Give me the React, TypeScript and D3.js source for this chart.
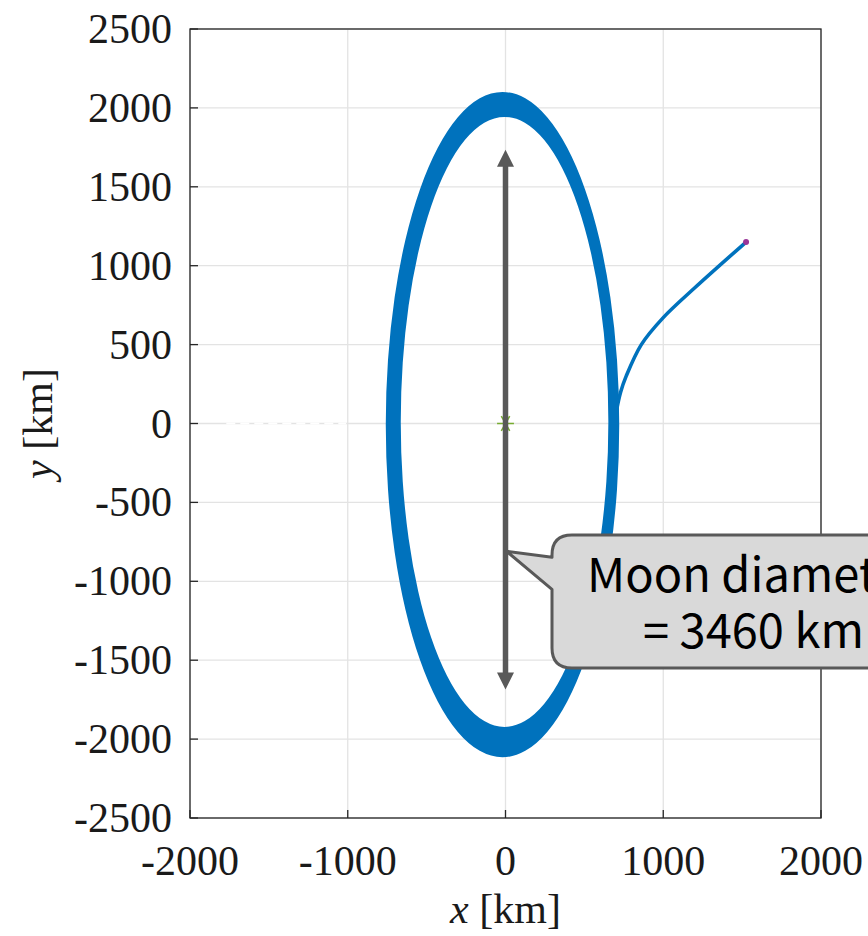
import React from "react";
import * as d3 from "d3";

// Axis ticks
const xTicks = [-2000, -1000, 0, 1000, 2000];
const yTicks = [2500, 2000, 1500, 1000, 500, 0, -500, -1000, -1500, -2000, -2500];

// Orbit band boundaries (km): [outer, inner]
const bandCx = [-19, -6];
const bandCy = [-7, 10];
const bandRx = [740, 658];
const bandRy = [2107, 1933];

// Transfer trajectory (km)
const trajX = [705, 730, 765, 861, 1000, 1200, 1525];
const trajY = [90, 200, 300, 500, 671, 860, 1150];

// Moon diameter arrow (km)
const arrowX = 0;
const arrowTop = 1735;
const arrowBottom = -1685;
const calloutTipY = -810;

const W = 868;
const H = 936;

export default function App() {
  const x = d3.scaleLinear().domain([-2000, 2000]).range([190, 821]);
  const y = d3.scaleLinear().domain([-2500, 2500]).range([818, 29]);

  const ellipsePath = (i: number) => {
    const cx = x(bandCx[i]);
    const cy = y(bandCy[i]);
    const rx = x(bandCx[i] + bandRx[i]) - cx;
    const ry = cy - y(bandCy[i] + bandRy[i]);
    return `M${cx - rx},${cy} A${rx},${ry} 0 1 0 ${cx + rx},${cy} A${rx},${ry} 0 1 0 ${cx - rx},${cy} Z`;
  };
  const bandPath = ellipsePath(0) + " " + ellipsePath(1);

  const traj = trajX.map((v, i) => [v, trajY[i]] as [number, number]);
  const trajLine = d3
    .line<[number, number]>()
    .x((d) => x(d[0]))
    .y((d) => y(d[1]))
    .curve(d3.curveCatmullRom.alpha(0.5))(traj) as string;

  const ax = x(arrowX);
  const aTop = y(arrowTop);
  const aBot = y(arrowBottom);
  const head = 17;
  const hw = 8.5;

  const tipX = ax + 1;
  const tipY = y(calloutTipY);
  const bL = 552;
  const bT = 535;
  const bB = 668;
  const bR = 920;
  const r = 20;
  const calloutPath = `M${bL},${tipY + 6} L${bL},${bT + r} Q${bL},${bT} ${bL + r},${bT} L${bR},${bT} L${bR},${bB} L${bL + r},${bB} Q${bL},${bB} ${bL},${bB - r} L${bL},${tipY + 38} L${tipX},${tipY} Z`;

  const star = d3.symbol(d3.symbolAsterisk, 200)() as string;

  const serif = "'Liberation Serif', 'Times New Roman', serif";
  const axisColor = "#262626";

  return (
    <>
      <style>{`body{margin:0}`}</style>
      <svg width={W} height={H} style={{ display: "block", background: "#fff" }}>
        {/* grid */}
        <g stroke="#e3e3e3" strokeWidth={1.3}>
          {xTicks.map((t) => (
            <line key={"gx" + t} x1={x(t)} x2={x(t)} y1={y(-2500)} y2={y(2500)} />
          ))}
          {yTicks.map((t) => (
            <line key={"gy" + t} x1={x(-2000)} x2={x(2000)} y1={y(t)} y2={y(t)} />
          ))}
        </g>
        {/* white dashed artifact on y=0 */}
        <line
          x1={x(-1770)}
          x2={x(-1010)}
          y1={y(0)}
          y2={y(0)}
          stroke="#fff"
          strokeWidth={1.6}
          strokeDasharray="9,5"
        />
        {/* orbit band */}
        <path d={bandPath} fill="#0072BD" fillRule="evenodd" />
        {/* transfer trajectory */}
        <path d={trajLine} fill="none" stroke="#0072BD" strokeWidth={3.6} strokeLinecap="round" />
        <circle cx={x(trajX[trajX.length - 1])} cy={y(trajY[trajY.length - 1])} r={3} fill="#9a3598" />
        {/* moon center */}
        <path
          d={star}
          transform={`translate(${x(0)},${y(0)}) rotate(90)`}
          fill="none"
          stroke="#77AC30"
          strokeWidth={1.5}
        />
        {/* axes box */}
        <rect
          x={x(-2000)}
          y={y(2500)}
          width={x(2000) - x(-2000)}
          height={y(-2500) - y(2500)}
          fill="none"
          stroke={axisColor}
          strokeWidth={1.3}
        />
        <g stroke={axisColor} strokeWidth={1.3}>
          {xTicks.map((t) => (
            <line key={"tx" + t} x1={x(t)} x2={x(t)} y1={y(-2500)} y2={y(-2500) - 8} />
          ))}
          {yTicks.map((t) => (
            <line key={"ty" + t} x1={x(-2000)} x2={x(-2000) + 8} y1={y(t)} y2={y(t)} />
          ))}
        </g>
        {/* tick labels */}
        <g fontFamily={serif} fontSize={42} fill="#1a1a1a">
          {xTicks.map((t) => (
            <text key={"lx" + t} x={x(t)} y={875} textAnchor="middle">
              {String(t)}
            </text>
          ))}
          {yTicks.map((t) => (
            <text key={"ly" + t} x={172} y={y(t) + 14} textAnchor="end">
              {String(t)}
            </text>
          ))}
        </g>
        {/* axis labels */}
        <text x={x(0)} y={923} textAnchor="middle" fontFamily={serif} fontSize={42} fill="#1a1a1a">
          <tspan fontStyle="italic">x</tspan>
          <tspan> [km]</tspan>
        </text>
        <text
          transform={`translate(52,${y(0)}) rotate(-90)`}
          textAnchor="middle"
          fontFamily={serif}
          fontSize={42}
          fill="#1a1a1a"
        >
          <tspan fontStyle="italic">y</tspan>
          <tspan> [km]</tspan>
        </text>
        {/* arrow */}
        <g fill="#595959" stroke="none">
          <line x1={ax} x2={ax} y1={aTop + head - 1} y2={aBot - head + 1} stroke="#595959" strokeWidth={5.5} />
          <path d={`M${ax},${aTop} L${ax - hw},${aTop + head} L${ax + hw},${aTop + head} Z`} />
          <path d={`M${ax},${aBot} L${ax - hw},${aBot - head} L${ax + hw},${aBot - head} Z`} />
        </g>
        {/* callout */}
        <path d={calloutPath} fill="#d9d9d9" stroke="#595959" strokeWidth={3} strokeLinejoin="round" />
        <g fontFamily="'Noto Sans CJK JP', 'Noto Sans', sans-serif" fontSize={47} fill="#000" textAnchor="start">
          <text x={587} y={592}>Moon diameter</text>
          <text x={643} y={648}>= 3460 km</text>
        </g>
      </svg>
    </>
  );
}
